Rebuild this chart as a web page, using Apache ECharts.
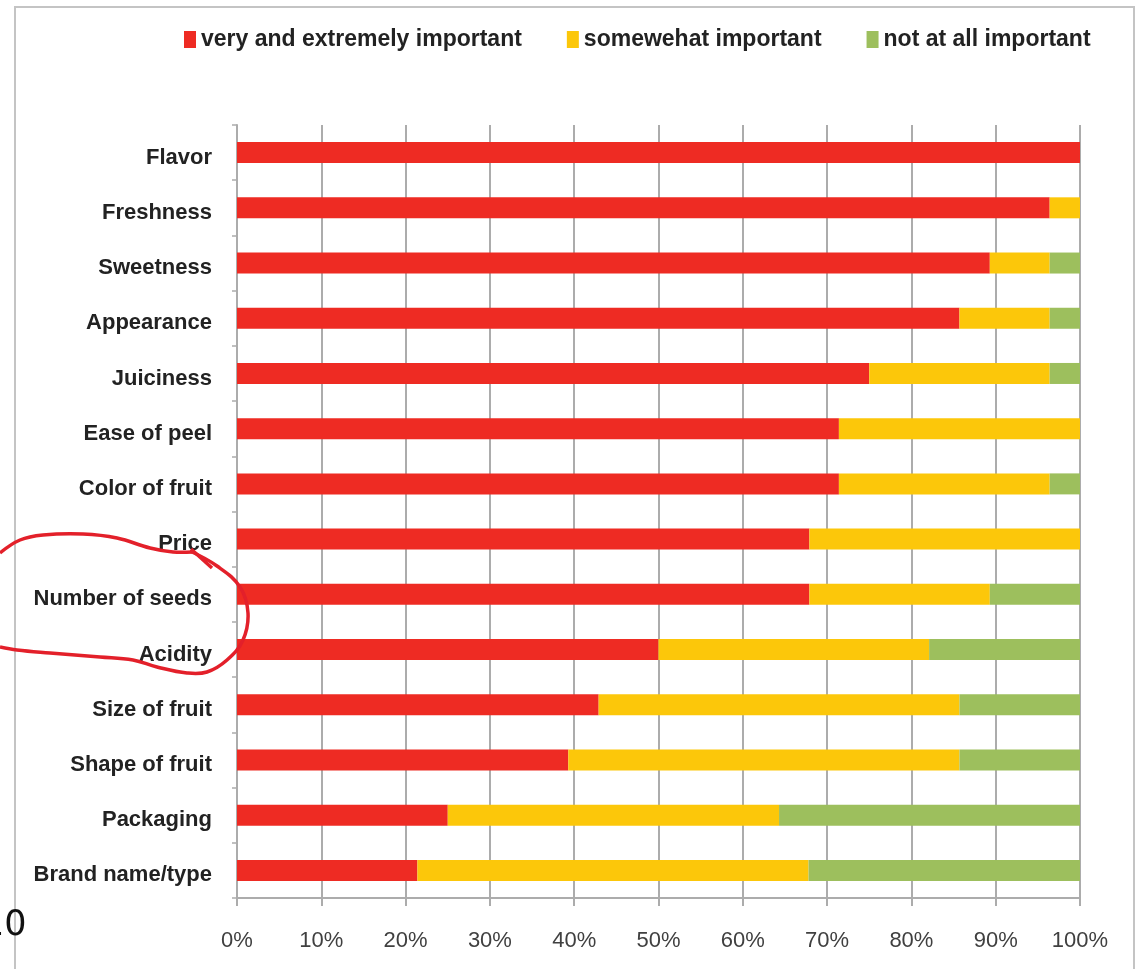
<!DOCTYPE html>
<html>
<head>
<meta charset="utf-8">
<script src="https://cdn.jsdelivr.net/npm/echarts@6/dist/echarts.min.js"></script>
<style>
  html, body { margin: 0; padding: 0; background: #ffffff; }
  #chart { width: 1138px; height: 969px; }
</style>
</head>
<body>
<div id="chart"></div>
<script>
const categories = ['Flavor', 'Freshness', 'Sweetness', 'Appearance', 'Juiciness', 'Ease of peel', 'Color of fruit', 'Price', 'Number of seeds', 'Acidity', 'Size of fruit', 'Shape of fruit', 'Packaging', 'Brand name/type'];
const veryImportant = [100, 96.4, 89.3, 85.7, 75.0, 71.4, 71.4, 67.9, 67.9, 50.0, 42.9, 39.3, 25.0, 21.4];
const somewhatImportant = [0, 3.6, 7.1, 10.7, 21.4, 28.6, 25.0, 32.1, 21.4, 32.1, 42.8, 46.4, 39.3, 46.4];
const notAtAllImportant = [0, 0, 3.6, 3.6, 3.6, 0, 3.6, 0, 10.7, 17.9, 14.3, 14.3, 35.7, 32.2];
const seriesNames = ['very and extremely important', 'somewehat important', 'not at all important'];
const xTickValues = [0, 10, 20, 30, 40, 50, 60, 70, 80, 90, 100];

const FONT = "'Liberation Sans Narrow', 'Liberation Sans', sans-serif";
const colors = ['#ee2b23', '#fcc70a', '#9dbf5d'];

const chart = echarts.init(document.getElementById('chart'), null, { renderer: 'canvas' });

function barSeries(name, data, color) {
  return {
    name: name,
    type: 'bar',
    stack: 'total',
    data: data,
    barWidth: 21,
    itemStyle: { color: color },
    emphasis: { disabled: true }
  };
}

chart.setOption({
  backgroundColor: '#ffffff',
  animation: false,
  color: colors,
  legend: {
    left: 179,
    top: 23,
    itemWidth: 12,
    itemHeight: 17,
    itemGap: 45,
    icon: 'rect',
    data: seriesNames,
    textStyle: { fontFamily: FONT, fontSize: 23, fontWeight: 'bold', color: '#222222' }
  },
  grid: { left: 237, right: 58, top: 125, bottom: 71, containLabel: false },
  xAxis: {
    type: 'value',
    min: xTickValues[0],
    max: xTickValues[xTickValues.length - 1],
    interval: 10,
    axisLine: { show: true, lineStyle: { color: '#acacac', width: 2 } },
    axisTick: { show: true, length: 8, lineStyle: { color: '#acacac', width: 2 } },
    splitLine: { show: true, lineStyle: { color: '#acacac', width: 2 } },
    axisLabel: { formatter: '{value}%', margin: 32, fontFamily: FONT, fontSize: 22, color: '#404040' }
  },
  yAxis: {
    type: 'category',
    inverse: true,
    data: categories,
    axisLine: { show: true, lineStyle: { color: '#acacac', width: 2 } },
    axisTick: { show: true, length: 5, lineStyle: { color: '#acacac', width: 1.5 } },
    axisLabel: { margin: 25, verticalAlign: 'top', lineHeight: 10, fontFamily: FONT, fontSize: 22, fontWeight: 'bold', color: '#222222' }
  },
  series: [
    barSeries(seriesNames[0], veryImportant, colors[0]),
    barSeries(seriesNames[1], somewhatImportant, colors[1]),
    barSeries(seriesNames[2], notAtAllImportant, colors[2])
  ],
  graphic: [
    {
      type: 'rect',
      shape: { x: 15, y: 7, width: 1119, height: 980 },
      style: { fill: 'none', stroke: '#c4c4c4', lineWidth: 2 },
      silent: true, z: -1
    },
    {
      type: 'polyline',
      shape: {
        points: [[0, 553], [20, 540], [43, 535], [83, 534], [117, 538], [150, 548], [173, 552], [192, 552]],
        smooth: 0.4
      },
      style: { stroke: '#e3202a', lineWidth: 3.5, fill: 'none' },
      silent: true, z: 100
    },
    {
      type: 'polyline',
      shape: { points: [[191, 549], [212, 568]] },
      style: { stroke: '#e3202a', lineWidth: 3.5, fill: 'none' },
      silent: true, z: 100
    },
    {
      type: 'polyline',
      shape: {
        points: [[190, 551], [217, 566], [240, 587], [248, 613], [243, 640], [227, 660], [207, 672], [187, 673], [157, 667], [133, 660], [100, 657], [50, 653], [17, 650], [0, 647]],
        smooth: 0.4
      },
      style: { stroke: '#e3202a', lineWidth: 3.5, fill: 'none' },
      silent: true, z: 100
    },
    {
      type: 'text',
      left: -18,
      top: 908,
      style: { text: '10', fontFamily: "'DejaVu Sans', sans-serif", fontSize: 35, fill: '#111111' },
      silent: true, z: 100
    }
  ]
});
</script>
</body>
</html>
